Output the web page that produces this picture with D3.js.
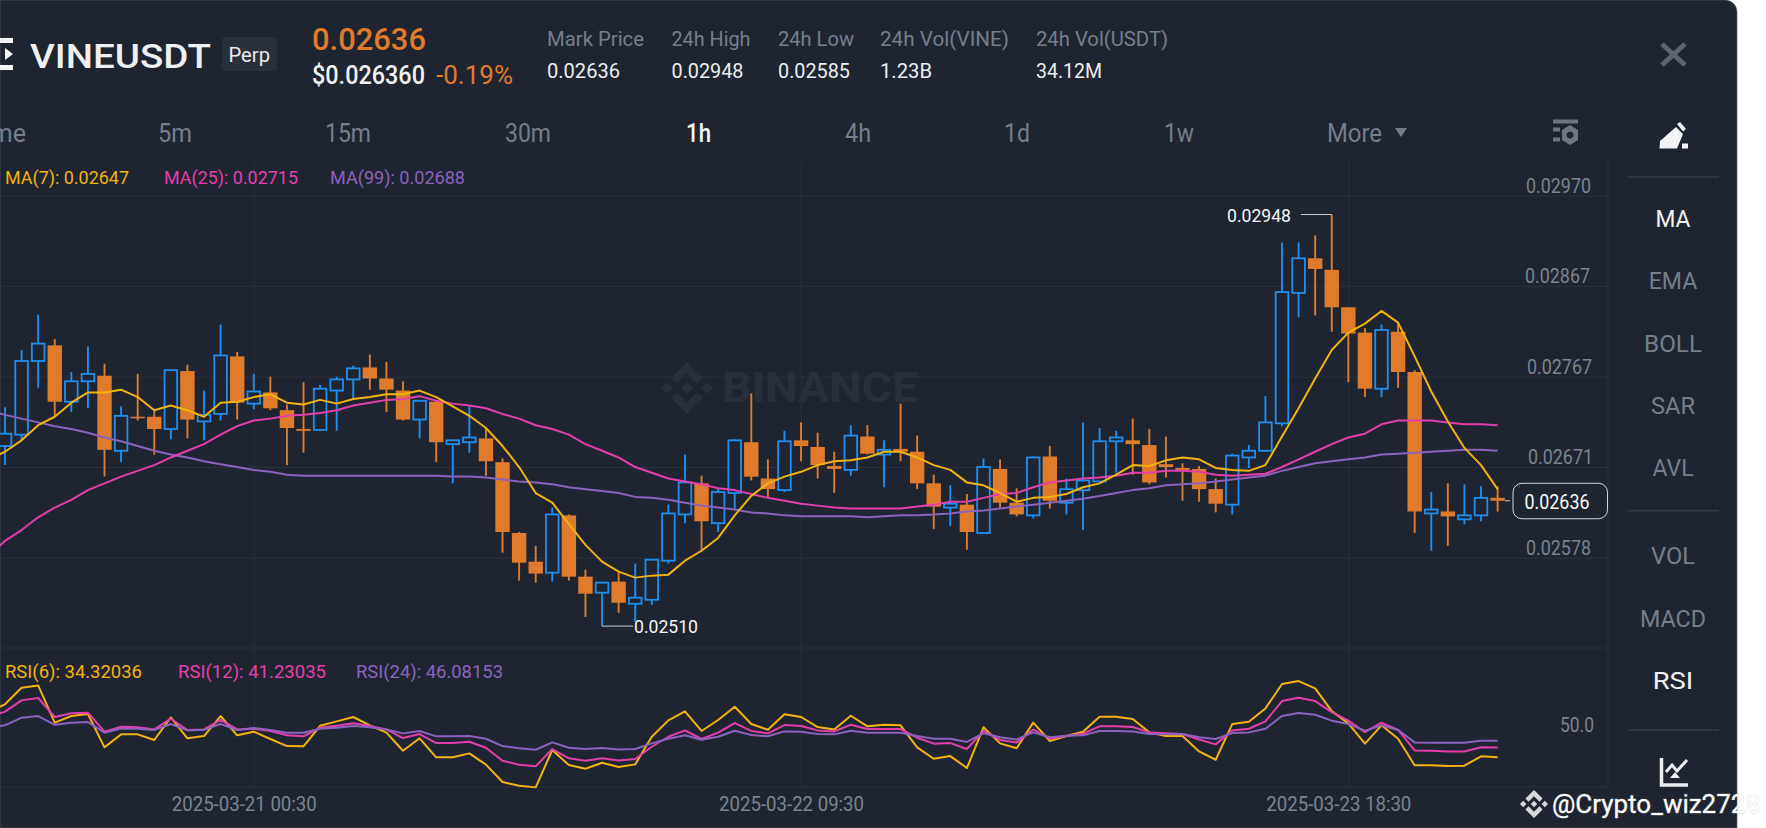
<!DOCTYPE html>
<html>
<head>
<meta charset="utf-8">
<title>VINEUSDT Perp 1h</title>
<script src="https://cdn.jsdelivr.net/npm/d3@7"></script>
<style>
  html, body { margin: 0; padding: 0; background: #fff; overflow: hidden; }
  svg { display: block; font-family: Roboto, sans-serif; }
</style>
</head>
<body>
<svg id="chart" width="1766" height="828"></svg>
<script>
const opens = [
  2693,2705,2784,2801,2740,2762,2768,2688,2724,2724,
  2711,2773,2719,2727,2789,2738,2750,2731,2711,2710,
  2752,2764,2777,2765,2752,2721,2740,2695,2697,2701,
  2676,2603,2574,2563,2621,2559,2543,2554,2532,2536,
  2575,2622,2654,2613,2644,2697,2659,2647,2699,2692,
  2672,2668,2703,2684,2690,2687,2654,2629,2632,2603,
  2669,2634,2621,2682,2634,2647,2656,2698,2699,2694,
  2674,2670,2669,2648,2632,2681,2688,2717,2859,2898,
  2885,2843,2815,2754,2816,2772,2623,2625,2617,2621,2639];
const highs = [
  2734,2796,2835,2808,2772,2800,2781,2735,2770,2732,
  2775,2780,2752,2824,2794,2770,2767,2737,2761,2758,
  2767,2779,2791,2783,2762,2742,2742,2700,2735,2712,
  2680,2604,2590,2629,2622,2566,2553,2563,2572,2576,
  2632,2684,2662,2648,2700,2749,2679,2709,2718,2707,
  2687,2715,2715,2699,2738,2704,2663,2652,2643,2680,
  2679,2649,2682,2693,2659,2718,2712,2709,2722,2711,
  2703,2675,2672,2659,2685,2694,2746,2916,2916,2924,
  2948,2843,2820,2824,2825,2774,2645,2654,2653,2651,2651];
const lows = [
  2673,2699,2755,2725,2729,2733,2661,2676,2720,2684,
  2700,2701,2699,2720,2721,2732,2731,2673,2686,2710,
  2709,2744,2753,2729,2720,2701,2676,2654,2686,2662,
  2583,2555,2553,2554,2555,2519,2510,2523,2514,2531,
  2572,2613,2586,2604,2626,2657,2639,2645,2677,2659,
  2644,2662,2684,2650,2677,2648,2607,2610,2586,2602,
  2629,2620,2618,2628,2622,2606,2655,2665,2663,2653,
  2660,2636,2635,2624,2622,2670,2687,2714,2832,2834,
  2816,2761,2745,2745,2755,2603,2585,2590,2612,2615,2625];
const closes = [
  2706,2784,2803,2740,2762,2770,2689,2725,2723,2711,
  2774,2721,2726,2790,2739,2751,2733,2712,2709,2754,
  2764,2776,2765,2753,2721,2741,2697,2699,2702,2677,
  2604,2573,2562,2622,2559,2542,2553,2533,2538,2576,
  2623,2655,2615,2645,2699,2661,2648,2698,2693,2673,
  2669,2704,2685,2689,2687,2654,2630,2633,2604,2671,
  2634,2622,2681,2636,2648,2657,2698,2702,2695,2655,
  2671,2668,2648,2633,2683,2688,2718,2860,2898,2886,
  2843,2814,2754,2818,2772,2625,2627,2620,2621,2639,2636];

// the line series start one bar earlier, left of the visible area
const ma7 = [2679,
  2687,2699,2715,2724,2739,2750,2750,2753,2745,2731,
  2736,2731,2724,2739,2740,2745,2748,2739,2737,2742,
  2738,2743,2745,2748,2748,2752,2745,2735,2725,2712,
  2693,2671,2644,2634,2612,2591,2574,2564,2558,2560,
  2561,2575,2585,2598,2621,2641,2654,2661,2666,2673,
  2677,2678,2681,2687,2687,2681,2673,2668,2655,2652,
  2644,2635,2639,2640,2643,2650,2654,2663,2673,2672,
  2678,2681,2679,2670,2668,2667,2673,2703,2733,2765,
  2796,2815,2825,2839,2826,2789,2751,2719,2691,2673,2648];
const ma25 = [2580,
  2595,2606,2619,2629,2637,2647,2654,2661,2667,2673,
  2681,2688,2695,2705,2714,2720,2722,2725,2726,2728,
  2731,2736,2739,2742,2743,2746,2741,2738,2736,2733,
  2727,2722,2715,2711,2705,2695,2688,2681,2671,2665,
  2659,2656,2653,2649,2647,2643,2639,2636,2633,2631,
  2629,2628,2628,2628,2628,2630,2632,2635,2635,2639,
  2643,2644,2650,2655,2657,2659,2660,2662,2665,2665,
  2667,2667,2666,2663,2662,2663,2664,2671,2679,2687,
  2695,2702,2706,2716,2720,2720,2720,2718,2716,2716,2715];
const ma99 = [2731,
  2726,2722,2718,2714,2711,2707,2702,2698,2693,2688,
  2684,2681,2677,2674,2671,2668,2666,2663,2662,2662,
  2662,2662,2662,2662,2662,2662,2662,2661,2661,2660,
  2658,2656,2655,2653,2650,2648,2646,2644,2640,2639,
  2637,2634,2631,2629,2627,2624,2623,2621,2620,2620,
  2620,2620,2619,2620,2621,2621,2622,2623,2625,2626,
  2628,2630,2632,2634,2636,2638,2641,2644,2647,2649,
  2652,2653,2654,2656,2658,2660,2662,2667,2671,2675,
  2677,2679,2681,2684,2685,2686,2687,2688,2689,2689,2688];

const rsi6 = [66.4,
  71.9,83.7,85.3,58.9,63.6,65.0,41.4,50.6,50.6,46.6,
  62.6,47.8,49.4,63.6,49.9,52.5,47.3,42.3,42.1,56.7,
  59.8,62.9,57.0,51.8,39.0,47.8,34.3,34.3,37.1,29.1,
  16.8,14.2,13.0,39.5,28.8,26.2,30.5,27.4,29.3,48.9,
  60.5,66.9,53.0,60.8,70.2,57.9,53.9,64.8,62.9,55.8,
  54.1,63.8,56.3,57.4,57.0,41.4,33.3,35.2,26.7,55.6,
  44.2,40.7,58.9,45.9,49.4,52.5,63.1,63.1,61.5,52.0,
  49.4,49.4,38.5,32.6,57.9,59.6,69.0,86.3,88.4,83.2,
  67.1,58.4,44.0,57.0,47.5,28.6,28.6,28.1,28.4,35.0,34.3];
const rsi12 = [63.1,
  66.7,74.7,76.4,62.9,65.5,66.0,52.5,56.0,55.6,54.1,
  61.7,53.7,54.1,60.8,54.1,54.6,53.0,49.9,49.2,55.3,
  56.7,58.4,56.5,54.1,48.0,50.8,44.4,44.4,45.4,41.1,
  31.9,29.1,27.9,40.2,33.6,31.9,33.6,32.1,33.1,41.8,
  48.9,53.4,47.3,51.8,58.6,53.0,51.3,57.2,56.5,53.4,
  52.7,57.4,54.4,54.4,54.4,48.2,44.0,44.4,40.2,53.0,
  46.6,44.9,54.1,47.5,49.4,51.1,56.3,56.3,55.8,52.0,
  51.3,50.8,47.0,43.5,53.4,54.6,59.8,74.2,76.6,74.2,
  66.4,60.3,52.2,58.9,53.7,39.2,39.0,38.5,38.5,41.4,41.2];
const rsi24 = [55.6,
  57.0,62.4,63.6,57.4,58.9,59.3,51.8,54.8,54.6,53.7,
  57.9,53.4,53.9,57.9,53.7,55.1,53.7,51.8,51.8,54.6,
  55.3,56.5,55.6,54.1,51.3,53.0,49.2,49.2,49.4,47.5,
  42.3,40.7,39.7,44.9,41.1,40.2,40.9,39.9,40.2,44.2,
  47.5,49.9,46.8,48.9,53.2,50.1,49.2,52.7,52.5,50.8,
  50.6,53.2,51.8,51.8,51.8,49.4,47.5,47.5,45.2,51.3,
  48.5,47.0,52.0,48.5,49.6,49.9,53.0,53.0,52.7,50.8,
  50.6,50.8,48.5,47.3,51.5,52.0,54.6,63.6,65.7,64.5,
  60.3,57.9,53.2,57.0,53.7,44.9,44.7,44.7,44.7,46.1,46.1];

const priceTicks = [2970, 2867, 2767, 2671, 2578];
const rsiTicks = [50];
const timeTicks = [15, 48, 81];
const timeLabels = ["2025-03-21 00:30", "2025-03-22 09:30", "2025-03-23 18:30"];
const lastPrice = 2636, highMark = 2948, lowMark = 2510;
const highBar = 80, lowBar = 36;

const bg = "#1f2530", grid = "#2c323d", axisGrey = "#7b838f", tabGrey = "#767e8b";
const upColor = "#1e8ff0", downColor = "#e07b2b";
const yellow = "#f3b30f", pink = "#e23fac", purple = "#8b62bd";

const plotRight = 1608, plotTop = 162, plotBottom = 787, rsiTop = 648;

const x = d3.scaleLinear().domain([0, 90]).range([5, 1497.6]);
const y = d3.scaleLog().domain([2970, 2578]).range([195.5, 557.7]);
const yRsi = d3.scaleLinear().domain([0, 100]).range([805.7, 664.7]);
const fmt = d => (d / 1e5).toFixed(5);

const svg = d3.select("#chart");

// dark panel, only the top right corner is rounded
svg.append("path")
  .attr("d", "M0,0H1725a12,12 0 0 1 12,12V828H0Z")
  .attr("fill", bg)
  .attr("stroke", "#59606c")
  .attr("stroke-width", 0.6);

function txt(g, str, px, base, size, fill, opt = {}) {
  const t = g.append("text")
    .attr("x", px).attr("y", base)
    .attr("font-size", size)
    .attr("fill", fill)
    .attr("font-weight", opt.weight || 400)
    .attr("text-anchor", opt.anchor || "start")
    .text(str);
  if (opt.w) t.attr("textLength", opt.w).attr("lengthAdjust", "spacingAndGlyphs");
  return t;
}

// ---- header
const head = svg.append("g");
head.append("path").attr("fill", "#f5f5f5")
  .attr("d", "M0,38H13V43H0ZM0,65H13V70H0ZM5,48L13,54L5,60Z");
txt(head, "VINEUSDT", 30, 67.5, 34, "#eef0f2", { w: 181, weight: 500 });
head.append("rect").attr("x", 222).attr("y", 37).attr("width", 55).attr("height", 34)
  .attr("rx", 4).attr("fill", "#2a303b");
txt(head, "Perp", 228.5, 62, 21, "#e8eaed", { w: 41.5 });
txt(head, "0.02636", 312, 50, 32, downColor, { w: 114, weight: 500 });
txt(head, "$0.026360", 312, 83.5, 25, "#f1f3f5", { w: 113, weight: 500 });
txt(head, "-0.19%", 436, 83.5, 25, downColor, { w: 77 });

const statNames = ["Mark Price", "24h High", "24h Low", "24h Vol(VINE)", "24h Vol(USDT)"];
const statValues = ["0.02636", "0.02948", "0.02585", "1.23B", "34.12M"];
const statX = [547, 671.5, 778, 880, 1036];
const statNameW = [97, 79, 76, 129, 132];
const statValueW = [73, 72, 72, 52, 66];
statNames.forEach((s, i) => {
  txt(head, s, statX[i], 46, 21, tabGrey, { w: statNameW[i] });
  txt(head, statValues[i], statX[i], 78, 19.5, "#eceef0", { w: statValueW[i] });
});

// ---- interval tabs
const tabs = ["5m", "15m", "30m", "1h", "4h", "1d", "1w", "More"];
const tabX = [158, 325, 505, 686, 845, 1004, 1164, 1327];
const tabW = [34, 46, 46, 25, 26, 26, 30, 55];
txt(head, "Time", 26, 141.5, 25, tabGrey, { anchor: "end" });
tabs.forEach((s, i) => {
  const on = s === "1h";
  txt(head, s, tabX[i], 141.5, 25, on ? "#f5f6f7" : tabGrey, { w: tabW[i], weight: on ? 500 : 400 });
});
head.append("path").attr("d", "M1395,128H1407L1401,137Z").attr("fill", tabGrey);

// settings icon
const gear = head.append("g").attr("fill", "#6e7683");
gear.append("path").attr("fill-rule", "evenodd")
  .attr("d", "M1553,119.5H1578V123.5H1553ZM1553,127.5H1560V131.5H1553ZM1553,137.5H1560V141.5H1553Z" +
    "M1570,125L1578,130V140L1570,145L1562,140V130ZM1570,131.5a3.5,3.5 0 1 0 0.01,0Z");

// close cross
head.append("path").attr("d", "M1662,44L1685,65M1685,44L1662,65")
  .attr("stroke", "#5d6470").attr("stroke-width", 5).attr("fill", "none");

// pencil
head.append("path").attr("fill", "#f2f3f4")
  .attr("d", "M1659.5,148.5L1660,141L1676,127L1683,134L1677,148.5Z" +
    "M1677,124L1680,122L1686,129L1683,131.5ZM1682,143.5H1688V148.5H1682Z");

// ---- side menu
const menu = svg.append("g");
const menuNames = ["MA", "EMA", "BOLL", "SAR", "AVL", "VOL", "MACD", "RSI"];
const menuBase = [227, 289, 352, 414, 476, 564, 626.5, 688.5];
const menuW = [35, 48.5, 58, 44, 41, 44, 66, 40.5];
menuNames.forEach((s, i) => {
  const on = s === "MA" || s === "RSI";
  txt(menu, s, 1673 - menuW[i] / 2, menuBase[i], 24, on ? "#f1f3f5" : tabGrey, { w: menuW[i] });
});
[177, 510.7, 730].forEach(sy => {
  menu.append("line").attr("x1", 1628).attr("x2", 1719).attr("y1", sy).attr("y2", sy)
    .attr("stroke", "#363c47").attr("stroke-width", 1.5);
});
// chart type icon
menu.append("path").attr("fill", "none").attr("stroke", "#eceef0").attr("stroke-width", 3.5)
  .attr("d", "M1661.5,758V785H1688");
menu.append("path").attr("fill", "none").attr("stroke", "#eceef0").attr("stroke-width", 3)
  .attr("d", "M1666,772L1672,765L1677,771L1687,760");
menu.append("path").attr("fill", "#eceef0").attr("d", "M1670,778L1675,772L1680,778Z");

// ---- watermark in the plot
const logoPaths = [
  "M38.73 53.2l24.59-24.58 24.6 24.6 14.3-14.31L63.32 0 24.42 38.9z",
  "M0 63.31l14.3-14.31 14.31 14.31-14.31 14.3z",
  "M38.73 73.41l24.59 24.59 24.6-24.6 14.31 14.29-38.9 38.91-38.91-38.88-.02-.02z",
  "M98 63.31l14.3-14.31 14.31 14.3-14.31 14.32z",
  "M77.83 63.3L63.32 48.78 52.59 59.51l-1.24 1.23-2.54 2.54 14.51 14.5 14.51-14.47z"
];
function logo(g, px, py, size, fill) {
  g.append("g").attr("transform", `translate(${px},${py}) scale(${size / 126.6})`)
    .selectAll("path").data(logoPaths).join("path").attr("d", d => d).attr("fill", fill);
}
logo(svg, 661, 362, 52, "#2a303b");
txt(svg, "BINANCE", 722, 402, 42, "#2a303b", { w: 196, weight: 700 });

// ---- axes and grid
const priceLabelX = [-82, -83, -81, -80, -82];
const priceAxis = svg.append("g")
  .attr("transform", `translate(${plotRight},0)`)
  .call(d3.axisRight(y).tickValues(priceTicks).tickFormat(fmt).tickSize(-plotRight));
priceAxis.select(".domain").remove();
priceAxis.selectAll("line").attr("stroke", grid);
priceAxis.selectAll("text")
  .attr("x", (d, i) => priceLabelX[i]).attr("dy", -3.5).attr("text-anchor", "start")
  .attr("font-size", 19.5).attr("font-family", "Roboto, sans-serif").attr("fill", axisGrey)
  .attr("textLength", 65).attr("lengthAdjust", "spacingAndGlyphs");

const rsiAxis = svg.append("g")
  .attr("transform", `translate(${plotRight},0)`)
  .call(d3.axisRight(yRsi).tickValues(rsiTicks).tickFormat(d3.format(".1f")).tickSize(0));
rsiAxis.select(".domain").remove();
rsiAxis.selectAll("text")
  .attr("x", -48).attr("dy", -3.5).attr("text-anchor", "start")
  .attr("font-size", 19.5).attr("font-family", "Roboto, sans-serif").attr("fill", axisGrey)
  .attr("textLength", 34).attr("lengthAdjust", "spacingAndGlyphs");

const timeAxis = svg.append("g")
  .attr("transform", `translate(0,${plotBottom})`)
  .call(d3.axisBottom(x).tickValues(timeTicks)
    .tickFormat((d, i) => timeLabels[i]).tickSize(-(plotBottom - plotTop)));
timeAxis.select(".domain").remove();
timeAxis.selectAll("line").attr("stroke", grid);
timeAxis.selectAll("text")
  .attr("x", -10).attr("y", 24).attr("dy", 0)
  .attr("font-size", 19.5).attr("font-family", "Roboto, sans-serif").attr("fill", axisGrey)
  .attr("textLength", 145).attr("lengthAdjust", "spacingAndGlyphs");

svg.append("g").attr("stroke", grid).selectAll("line")
  .data([rsiTop, plotBottom]).join("line")
  .attr("x1", 0).attr("x2", plotRight).attr("y1", d => d).attr("y2", d => d);
svg.append("line").attr("x1", plotRight).attr("x2", plotRight)
  .attr("y1", plotTop).attr("y2", plotBottom).attr("stroke", grid);

// ---- candles
const candles = opens.map((o, i) => ({ i, o, h: highs[i], l: lows[i], c: closes[i], up: closes[i] >= o }));
const candleW = 14.4;
const bars = svg.append("g").selectAll("g").data(candles).join("g");
bars.append("line")
  .attr("x1", d => x(d.i)).attr("x2", d => x(d.i))
  .attr("y1", d => y(d.h)).attr("y2", d => y(d.l))
  .attr("stroke", d => d.up ? upColor : downColor)
  .attr("stroke-width", 1.9);
bars.append("rect")
  .attr("x", d => x(d.i) - (d.up ? candleW / 2 - 0.9 : candleW / 2))
  .attr("width", d => d.up ? candleW - 1.8 : candleW)
  .attr("y", d => y(Math.max(d.o, d.c)))
  .attr("height", d => Math.max(1.5, Math.abs(y(d.o) - y(d.c))))
  .attr("fill", d => d.up ? bg : downColor)
  .attr("stroke", d => d.up ? upColor : "none")
  .attr("stroke-width", 1.8);

// ---- moving averages and rsi
const lineFor = yScale => d3.line().x((d, i) => x(i - 1)).y(d => yScale(d));
const lineSeries = [
  { v: ma99, c: purple, s: y }, { v: ma25, c: pink, s: y }, { v: ma7, c: yellow, s: y },
  { v: rsi6, c: yellow, s: yRsi }, { v: rsi12, c: pink, s: yRsi }, { v: rsi24, c: purple, s: yRsi }
];
svg.append("g").attr("fill", "none").attr("stroke-width", 2).attr("stroke-linejoin", "round")
  .selectAll("path").data(lineSeries).join("path")
  .attr("stroke", d => d.c)
  .attr("d", d => lineFor(d.s)(d.v));

// ---- legends
const maLegend = ["MA(7): 0.02647", "MA(25): 0.02715", "MA(99): 0.02688"];
const rsiLegend = ["RSI(6): 34.32036", "RSI(12): 41.23035", "RSI(24): 46.08153"];
const legendColors = [yellow, pink, purple];
const maLegendX = [5, 164, 330], maLegendW = [124, 134, 135];
const rsiLegendX = [5, 178, 356], rsiLegendW = [137, 148, 147];
maLegend.forEach((s, i) => txt(svg, s, maLegendX[i], 184, 18.5, legendColors[i], { w: maLegendW[i] }));
rsiLegend.forEach((s, i) => txt(svg, s, rsiLegendX[i], 677.5, 18.5, legendColors[i], { w: rsiLegendW[i] }));

// ---- high, low and last price marks
svg.append("path").attr("fill", "none").attr("stroke", "#c9ccd1").attr("stroke-width", 1)
  .attr("d", `M${x(highBar) - 31},${y(highMark)}H${x(highBar)}`);
txt(svg, fmt(highMark), 1227, 221.5, 19, "#f5f6f7", { w: 64 });
svg.append("path").attr("fill", "none").attr("stroke", "#c9ccd1").attr("stroke-width", 1)
  .attr("d", `M${x(lowBar)},${y(lowMark)}H${x(lowBar) + 31}`);
txt(svg, fmt(lowMark), 634, 633, 19, "#f5f6f7", { w: 64 });

svg.append("line").attr("x1", 1505).attr("x2", 1510)
  .attr("y1", y(lastPrice)).attr("y2", y(lastPrice)).attr("stroke", "#c9ccd1");
svg.append("rect").attr("x", 1513).attr("y", y(lastPrice) - 17.5).attr("width", 94.5).attr("height", 35.5)
  .attr("rx", 9).attr("fill", bg).attr("stroke", "#d5d7da").attr("stroke-width", 1);
txt(svg, fmt(lastPrice), 1524.5, y(lastPrice) + 8, 20.5, "#fafafa", { w: 65 });

// ---- author mark over the corner, partly on the white margin
logo(svg, 1520, 790, 28, "#d8dadd");
txt(svg, "@Crypto_wiz2728", 1552, 813, 26, "#ffffff", { w: 208 })
  .attr("stroke", "#b4b7bc").attr("stroke-width", 0.5).attr("paint-order", "stroke");
</script>
</body>
</html>
